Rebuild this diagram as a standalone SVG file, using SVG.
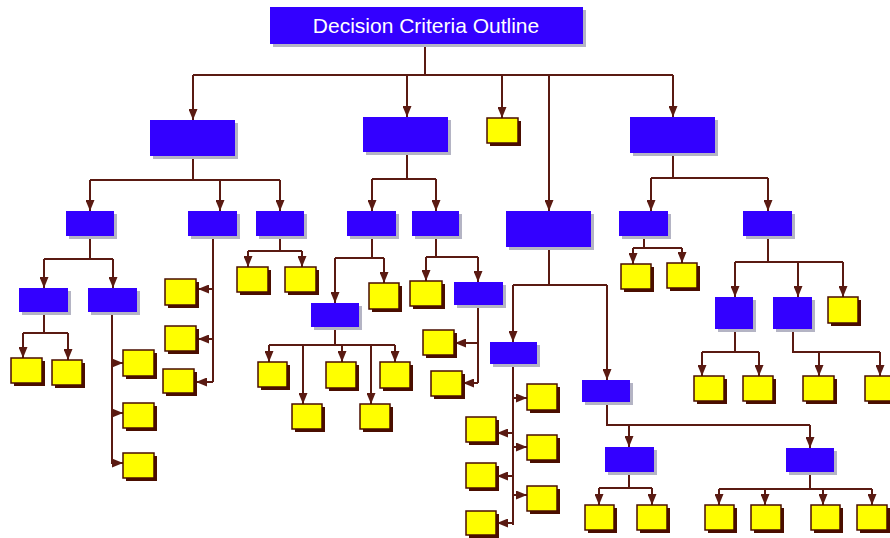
<svg xmlns="http://www.w3.org/2000/svg" width="890" height="538" viewBox="0 0 890 538">
<style>
.b{fill:#3300ff}
.bs{fill:#b4b4c4}
.y{fill:#ffff00;stroke:#4a0e00;stroke-width:1.5}
.ys{fill:#4a0e00}
.c path{fill:none;stroke:#5a1a12;stroke-width:2}
.a{marker-end:url(#ah)}
.t{font-family:"Liberation Sans",Arial,sans-serif;font-size:21px;fill:#ffffff}
</style>
<defs>
<marker id="ah" markerUnits="userSpaceOnUse" markerWidth="12" markerHeight="9" refX="11" refY="4.5" orient="auto">
<path d="M0,0 L11,4.5 L0,9 z" fill="#5a1a12"/>
</marker>
</defs>
<rect width="890" height="538" fill="#ffffff"/>
<g class="c">
<path d="M425,44V75M193,75H673"/>
<path class="a" d="M193,75V120"/><path class="a" d="M407,75V117"/><path class="a" d="M502,75V118"/><path class="a" d="M549,75V211"/><path class="a" d="M673,75V117"/>
<path d="M193,156V180M90,180H280"/>
<path class="a" d="M90,180V211"/><path class="a" d="M220,180V211"/><path class="a" d="M280,180V211"/>
<path d="M90,236V259M44,259H113"/>
<path class="a" d="M44,259V288"/><path class="a" d="M113,259V288"/>
<path d="M44,312V333M23,333H68"/>
<path class="a" d="M23,333V358"/><path class="a" d="M68,333V360"/>
<path d="M112,312V464"/>
<path class="a" d="M112,363H123"/><path class="a" d="M112,413H123"/><path class="a" d="M112,463H123"/>
<path d="M213,236V382"/>
<path class="a" d="M213,289H198"/><path class="a" d="M213,339H198"/><path class="a" d="M213,382H196"/>
<path d="M280,236V251M248,251H302"/>
<path class="a" d="M248,251V267"/><path class="a" d="M302,251V267"/>
<path d="M407,152V179M372,179H436"/>
<path class="a" d="M372,179V211"/><path class="a" d="M436,179V211"/>
<path d="M372,236V258M335,258H384"/>
<path class="a" d="M335,258V303"/><path class="a" d="M384,258V283"/>
<path d="M335,327V345M269,345H395"/>
<path class="a" d="M269,345V362"/><path class="a" d="M303,345V404"/><path class="a" d="M342,345V362"/><path class="a" d="M371,345V404"/><path class="a" d="M395,345V362"/>
<path d="M436,236V257M426,257H478"/>
<path class="a" d="M426,257V281"/><path class="a" d="M478,257V282"/>
<path d="M478,305V383"/>
<path class="a" d="M478,343H455"/><path class="a" d="M478,383H463"/>
<path d="M549,247V285M513,285H607"/>
<path class="a" d="M513,285V342"/><path class="a" d="M607,285V380"/>
<path d="M513,364V525"/>
<path class="a" d="M513,398H527"/><path class="a" d="M513,447H527"/><path class="a" d="M513,495H527"/>
<path class="a" d="M513,433H497"/><path class="a" d="M513,476H497"/><path class="a" d="M513,523H497"/>
<path d="M607,402V425H810"/>
<path class="a" d="M629,425V447"/><path class="a" d="M810,425V448"/>
<path d="M629,472V488M599,488H652"/>
<path class="a" d="M599,488V505"/><path class="a" d="M652,488V505"/>
<path d="M810,472V489M719,489H872"/>
<path class="a" d="M719,489V505"/><path class="a" d="M765,489V505"/><path class="a" d="M823,489V505"/><path class="a" d="M872,489V505"/>
<path d="M673,153V178M651,178H768"/>
<path class="a" d="M651,178V211"/><path class="a" d="M768,178V211"/>
<path d="M644,236V248M633,248H682"/>
<path class="a" d="M633,248V264"/><path class="a" d="M682,248V263"/>
<path d="M768,236V262M735,262H843"/>
<path class="a" d="M735,262V297"/><path class="a" d="M798,262V297"/><path class="a" d="M843,262V297"/>
<path d="M735,329V352M702,352H759"/>
<path class="a" d="M702,352V376"/><path class="a" d="M759,352V376"/>
<path d="M793,329V352H880"/>
<path class="a" d="M819,352V376"/><path class="a" d="M880,352V376"/>
</g>
<g id="root"><rect class="bs" x="273" y="10" width="313" height="37"/><rect class="b" x="270" y="7" width="313" height="37"/><text class="t" x="426" y="33" text-anchor="middle">Decision Criteria Outline</text></g>
<g id="A"><rect class="bs" x="153" y="123" width="85" height="36"/><rect class="b" x="150" y="120" width="85" height="36"/></g>
<g id="B"><rect class="bs" x="366" y="120" width="85" height="35"/><rect class="b" x="363" y="117" width="85" height="35"/></g>
<g id="E"><rect class="bs" x="509" y="214" width="85" height="36"/><rect class="b" x="506" y="211" width="85" height="36"/></g>
<g id="F"><rect class="bs" x="633" y="120" width="85" height="36"/><rect class="b" x="630" y="117" width="85" height="36"/></g>
<g id="A1"><rect class="bs" x="69" y="214" width="48" height="25"/><rect class="b" x="66" y="211" width="48" height="25"/></g>
<g id="A2"><rect class="bs" x="191" y="214" width="49" height="25"/><rect class="b" x="188" y="211" width="49" height="25"/></g>
<g id="A3"><rect class="bs" x="259" y="214" width="48" height="25"/><rect class="b" x="256" y="211" width="48" height="25"/></g>
<g id="A1a"><rect class="bs" x="22" y="291" width="49" height="24"/><rect class="b" x="19" y="288" width="49" height="24"/></g>
<g id="A1b"><rect class="bs" x="91" y="291" width="49" height="24"/><rect class="b" x="88" y="288" width="49" height="24"/></g>
<g id="B1"><rect class="bs" x="350" y="214" width="49" height="25"/><rect class="b" x="347" y="211" width="49" height="25"/></g>
<g id="B2"><rect class="bs" x="415" y="214" width="47" height="25"/><rect class="b" x="412" y="211" width="47" height="25"/></g>
<g id="B1a"><rect class="bs" x="314" y="306" width="48" height="24"/><rect class="b" x="311" y="303" width="48" height="24"/></g>
<g id="B2b"><rect class="bs" x="457" y="285" width="49" height="23"/><rect class="b" x="454" y="282" width="49" height="23"/></g>
<g id="E1"><rect class="bs" x="493" y="345" width="47" height="22"/><rect class="b" x="490" y="342" width="47" height="22"/></g>
<g id="E2"><rect class="bs" x="585" y="383" width="48" height="22"/><rect class="b" x="582" y="380" width="48" height="22"/></g>
<g id="E2a"><rect class="bs" x="608" y="450" width="49" height="25"/><rect class="b" x="605" y="447" width="49" height="25"/></g>
<g id="E2b"><rect class="bs" x="789" y="451" width="48" height="24"/><rect class="b" x="786" y="448" width="48" height="24"/></g>
<g id="F1"><rect class="bs" x="622" y="214" width="49" height="25"/><rect class="b" x="619" y="211" width="49" height="25"/></g>
<g id="F2"><rect class="bs" x="746" y="214" width="49" height="25"/><rect class="b" x="743" y="211" width="49" height="25"/></g>
<g id="F2a"><rect class="bs" x="718" y="300" width="38" height="32"/><rect class="b" x="715" y="297" width="38" height="32"/></g>
<g id="F2b"><rect class="bs" x="776" y="300" width="39" height="32"/><rect class="b" x="773" y="297" width="39" height="32"/></g>
<g id="y1"><rect class="ys" x="14" y="361" width="31" height="25"/><rect class="y" x="11" y="358" width="31" height="25"/></g>
<g id="y2"><rect class="ys" x="55" y="363" width="30" height="25"/><rect class="y" x="52" y="360" width="30" height="25"/></g>
<g id="y3"><rect class="ys" x="126" y="353" width="31" height="26"/><rect class="y" x="123" y="350" width="31" height="26"/></g>
<g id="y4"><rect class="ys" x="126" y="406" width="31" height="25"/><rect class="y" x="123" y="403" width="31" height="25"/></g>
<g id="y5"><rect class="ys" x="126" y="456" width="31" height="25"/><rect class="y" x="123" y="453" width="31" height="25"/></g>
<g id="y6"><rect class="ys" x="168" y="282" width="31" height="26"/><rect class="y" x="165" y="279" width="31" height="26"/></g>
<g id="y7"><rect class="ys" x="168" y="329" width="31" height="25"/><rect class="y" x="165" y="326" width="31" height="25"/></g>
<g id="y8"><rect class="ys" x="166" y="372" width="31" height="24"/><rect class="y" x="163" y="369" width="31" height="24"/></g>
<g id="y9"><rect class="ys" x="240" y="270" width="31" height="25"/><rect class="y" x="237" y="267" width="31" height="25"/></g>
<g id="y10"><rect class="ys" x="288" y="270" width="31" height="25"/><rect class="y" x="285" y="267" width="31" height="25"/></g>
<g id="y11"><rect class="ys" x="372" y="286" width="30" height="26"/><rect class="y" x="369" y="283" width="30" height="26"/></g>
<g id="y12"><rect class="ys" x="261" y="365" width="29" height="25"/><rect class="y" x="258" y="362" width="29" height="25"/></g>
<g id="y13"><rect class="ys" x="295" y="407" width="30" height="25"/><rect class="y" x="292" y="404" width="30" height="25"/></g>
<g id="y14"><rect class="ys" x="329" y="365" width="30" height="26"/><rect class="y" x="326" y="362" width="30" height="26"/></g>
<g id="y15"><rect class="ys" x="363" y="407" width="30" height="25"/><rect class="y" x="360" y="404" width="30" height="25"/></g>
<g id="y16"><rect class="ys" x="383" y="365" width="30" height="26"/><rect class="y" x="380" y="362" width="30" height="26"/></g>
<g id="y17"><rect class="ys" x="413" y="284" width="32" height="25"/><rect class="y" x="410" y="281" width="32" height="25"/></g>
<g id="y18"><rect class="ys" x="426" y="333" width="31" height="25"/><rect class="y" x="423" y="330" width="31" height="25"/></g>
<g id="y19"><rect class="ys" x="434" y="374" width="31" height="25"/><rect class="y" x="431" y="371" width="31" height="25"/></g>
<g id="C"><rect class="ys" x="490" y="121" width="31" height="25"/><rect class="y" x="487" y="118" width="31" height="25"/></g>
<g id="y20"><rect class="ys" x="530" y="387" width="30" height="26"/><rect class="y" x="527" y="384" width="30" height="26"/></g>
<g id="y21"><rect class="ys" x="530" y="438" width="30" height="25"/><rect class="y" x="527" y="435" width="30" height="25"/></g>
<g id="y22"><rect class="ys" x="530" y="489" width="30" height="25"/><rect class="y" x="527" y="486" width="30" height="25"/></g>
<g id="y23"><rect class="ys" x="469" y="420" width="30" height="25"/><rect class="y" x="466" y="417" width="30" height="25"/></g>
<g id="y24"><rect class="ys" x="469" y="466" width="30" height="25"/><rect class="y" x="466" y="463" width="30" height="25"/></g>
<g id="y25"><rect class="ys" x="469" y="514" width="30" height="24"/><rect class="y" x="466" y="511" width="30" height="24"/></g>
<g id="y26"><rect class="ys" x="588" y="508" width="29" height="25"/><rect class="y" x="585" y="505" width="29" height="25"/></g>
<g id="y27"><rect class="ys" x="640" y="508" width="30" height="25"/><rect class="y" x="637" y="505" width="30" height="25"/></g>
<g id="y28"><rect class="ys" x="708" y="508" width="29" height="25"/><rect class="y" x="705" y="505" width="29" height="25"/></g>
<g id="y29"><rect class="ys" x="754" y="508" width="30" height="25"/><rect class="y" x="751" y="505" width="30" height="25"/></g>
<g id="y30"><rect class="ys" x="814" y="508" width="29" height="25"/><rect class="y" x="811" y="505" width="29" height="25"/></g>
<g id="y31"><rect class="ys" x="860" y="508" width="30" height="25"/><rect class="y" x="857" y="505" width="30" height="25"/></g>
<g id="y32"><rect class="ys" x="624" y="267" width="30" height="25"/><rect class="y" x="621" y="264" width="30" height="25"/></g>
<g id="y33"><rect class="ys" x="670" y="266" width="30" height="25"/><rect class="y" x="667" y="263" width="30" height="25"/></g>
<g id="y34"><rect class="ys" x="831" y="300" width="30" height="26"/><rect class="y" x="828" y="297" width="30" height="26"/></g>
<g id="y35"><rect class="ys" x="697" y="379" width="30" height="25"/><rect class="y" x="694" y="376" width="30" height="25"/></g>
<g id="y36"><rect class="ys" x="746" y="379" width="30" height="25"/><rect class="y" x="743" y="376" width="30" height="25"/></g>
<g id="y37"><rect class="ys" x="806" y="379" width="31" height="25"/><rect class="y" x="803" y="376" width="31" height="25"/></g>
<g id="y38"><rect class="ys" x="868" y="379" width="30" height="25"/><rect class="y" x="865" y="376" width="30" height="25"/></g>
</svg>
